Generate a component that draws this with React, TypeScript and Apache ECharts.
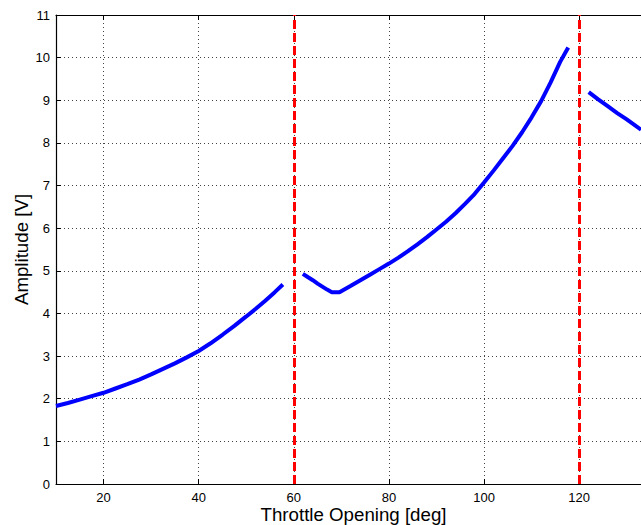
import React, { useEffect, useRef } from "react";
import * as echarts from "echarts";

const xTicks = [20, 40, 60, 80, 100, 120];
const thresholds = [60, 120];

const seg1X = [10, 12.5, 15, 17.5, 20, 22.5, 25, 27.5, 30, 32.5, 35, 37.5, 40, 42.5, 45, 47.5, 50, 52, 54, 56, 57.7];
const seg1Y = [1.83, 1.9, 1.98, 2.06, 2.14, 2.24, 2.34, 2.45, 2.57, 2.7, 2.83, 2.97, 3.12, 3.3, 3.5, 3.71, 3.93, 4.11, 4.3, 4.5, 4.68];

const seg2X = [61.9, 63, 64, 65, 66, 67, 68, 69.6, 72, 74, 76, 78, 80, 82, 84, 86, 88, 90, 92, 94, 96, 98, 100, 102, 104, 106, 108, 110, 112, 114, 116, 117.7];
const seg2Y = [4.93, 4.85, 4.78, 4.7, 4.63, 4.56, 4.5, 4.5, 4.65, 4.78, 4.91, 5.04, 5.17, 5.31, 5.46, 5.62, 5.79, 5.97, 6.15, 6.35, 6.57, 6.8, 7.07, 7.35, 7.64, 7.93, 8.25, 8.6, 8.98, 9.42, 9.9, 10.24];

const seg3X = [122, 124, 126, 128, 130, 133];
const seg3Y = [9.19, 9.02, 8.86, 8.7, 8.55, 8.31];

const FONT = "'Liberation Sans', Arial, Helvetica, sans-serif";

const zip = (xs: number[], ys: number[]) => xs.map((x, i) => [x, ys[i]]);

export default function App() {
  const ref = useRef<HTMLDivElement>(null);
  useEffect(() => {
    if (!ref.current) return;
    const chart = echarts.init(ref.current, null, { renderer: "svg" });
    const blue = {
      type: "line" as const,
      showSymbol: false,
      symbol: "none",
      lineStyle: { color: "#0000ff", width: 4 },
      itemStyle: { color: "#0000ff" },
      clip: true,
      z: 5,
    };
    chart.setOption({
      animation: false,
      backgroundColor: "#ffffff",
      textStyle: { fontFamily: FONT },
      grid: { left: 56, right: 0, top: 15, bottom: 41, containLabel: false, outerBoundsMode: "none" },
      xAxis: [
        {
          type: "value",
          min: 10,
          max: 133,
          position: "bottom",
          name: "Throttle Opening [deg]",
          nameLocation: "middle",
          nameGap: 21,
          nameMoveOverlap: false,
          nameTextStyle: { fontSize: 18.7, lineHeight: 18, color: "#000", fontFamily: FONT, padding: [0, 0, 0, 10] },
          axisLine: { show: true, lineStyle: { color: "#000", width: 1.2 } },
          axisTick: { show: true, inside: true, length: 5, customValues: xTicks, lineStyle: { color: "#000" } },
          axisLabel: { customValues: xTicks, color: "#000", fontSize: 13, lineHeight: 13, margin: 7, fontFamily: FONT },
          splitLine: { show: true, lineStyle: { color: "#444", type: [1, 3], width: 1 } },
        },
        {
          type: "value",
          min: 10,
          max: 133,
          position: "top",
          axisLine: { show: true, lineStyle: { color: "#000", width: 1.2 } },
          axisTick: { show: true, inside: true, length: 5, customValues: xTicks, lineStyle: { color: "#000" } },
          axisLabel: { show: false },
          splitLine: { show: false },
        },
      ],
      yAxis: {
        type: "value",
        min: 0,
        max: 11,
        interval: 1,
        name: "Amplitude [V]",
        nameLocation: "middle",
        nameGap: 25,
        nameMoveOverlap: false,
        nameTextStyle: { fontSize: 18.7, color: "#000", fontFamily: FONT },
        axisLine: { show: true, lineStyle: { color: "#000", width: 1.2 } },
        axisTick: { show: true, inside: true, length: 5, lineStyle: { color: "#000" } },
        axisLabel: { color: "#000", fontSize: 13, margin: 6, fontFamily: FONT },
        splitLine: { show: true, lineStyle: { color: "#444", type: [1, 3], width: 1 } },
      },
      series: [
        { ...blue, name: "seg1", data: zip(seg1X, seg1Y) },
        { ...blue, name: "seg2", data: zip(seg2X, seg2Y) },
        {
          ...blue,
          name: "seg3",
          data: zip(seg3X, seg3Y),
          markLine: {
            silent: true,
            symbol: "none",
            label: { show: false },
            lineStyle: { color: "#ff0000", width: 3, type: [9, 4] },
            data: thresholds.map((t) => ({ xAxis: t })),
          },
        },
      ],
    });
    return () => chart.dispose();
  }, []);
  return <div ref={ref} style={{ width: 641, height: 525, position: "absolute", left: 0, top: 0 }} />;
}
